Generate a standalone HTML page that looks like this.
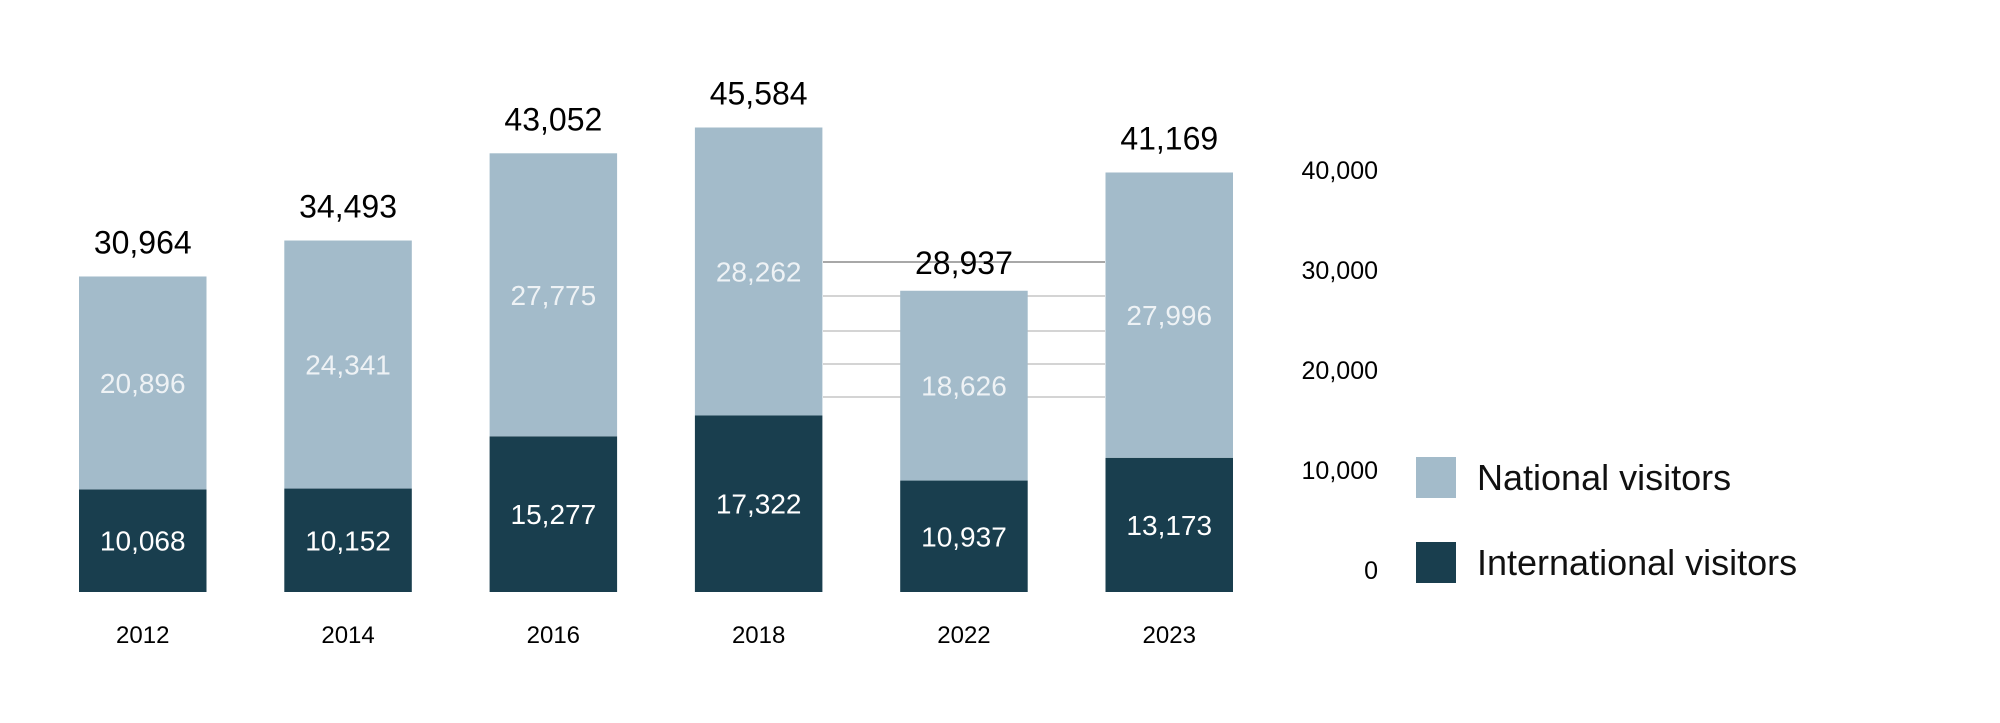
<!DOCTYPE html>
<html><head><meta charset="utf-8"><style>
html,body{margin:0;padding:0;background:#fff;}
svg{display:block;font-family:"Liberation Sans",Arial,sans-serif;}
</style></head><body>
<svg id="chart" width="2000" height="723" viewBox="0 0 2000 723" xmlns="http://www.w3.org/2000/svg">
<g id="grid"></g>
<g id="bars"></g>
<g id="axis"></g>
<g>
<rect x="1416" y="457" width="40" height="41" fill="#a3bbca"/>
<text x="1477" y="490" font-size="36" fill="#111">National visitors</text>
<rect x="1416" y="542" width="40" height="41" fill="#193e4e"/>
<text x="1477" y="575" font-size="36" fill="#111">International visitors</text>
</g>
</svg>
<script>
const categories = ["2012","2014","2016","2018","2022","2023"];
const international = [10068,10152,15277,17322,10937,13173];
const national = [20896,24341,27775,28262,18626,27996];
const totals = [30964,34493,43052,45584,28937,41169];
const tickLabels = ["0","10,000","20,000","30,000","40,000"];

const NS="http://www.w3.org/2000/svg";
const base=592, k=0.01019, x0=79, pitch=205.3, bw=127.5;
const y=v=>base-v*k;
const fmt=v=>v.toLocaleString('en-US');
function mk(tag,attrs,parent,txt){const e=document.createElementNS(NS,tag);for(const a in attrs)e.setAttribute(a,attrs[a]);if(txt!==undefined)e.textContent=txt;parent.appendChild(e);return e;}
const grid=document.getElementById('grid'),bars=document.getElementById('bars'),axis=document.getElementById('axis');
[262,296,331,364,397].forEach((gy,i)=>{
  const l=mk('line',{x1:823,x2:1105,y1:gy,y2:gy,stroke:i==0?'#a8a8a8':'#d4d4d4','stroke-width':2},grid);
  
  
});
categories.forEach((c,i)=>{
  const x=x0+i*pitch, cx=x+bw/2;
  const yi=y(international[i]), yt=y(international[i]+national[i]);
  const r1=mk('rect',{x:x,y:yi,width:bw,height:base-yi,fill:'#193e4e'},bars);
  
  
  const r2=mk('rect',{x:x,y:yt,width:bw,height:yi-yt,fill:'#a3bbca'},bars);
  
  
  const t1=mk('text',{x:cx,y:(yi+base)/2+10,'font-size':28,fill:'#fff','text-anchor':'middle'},bars,fmt(international[i]));
  
  
  const t2=mk('text',{x:cx,y:(yt+yi)/2+10,'font-size':28,fill:'#eef2f5','text-anchor':'middle'},bars,fmt(national[i]));
  
  
  const t3=mk('text',{x:cx,y:y(totals[i])-23,'font-size':32,fill:'#000','text-anchor':'middle'},bars,fmt(totals[i]));
  
  
  const t4=mk('text',{x:cx,y:643,'font-size':24,fill:'#000','text-anchor':'middle'},bars,c);
  
  
});
tickLabels.forEach((t,i)=>{
  const e=mk('text',{x:1378,y:579-i*100,'font-size':25,fill:'#000','text-anchor':'end'},axis,t);
  
  
});
</script>
</body></html>
